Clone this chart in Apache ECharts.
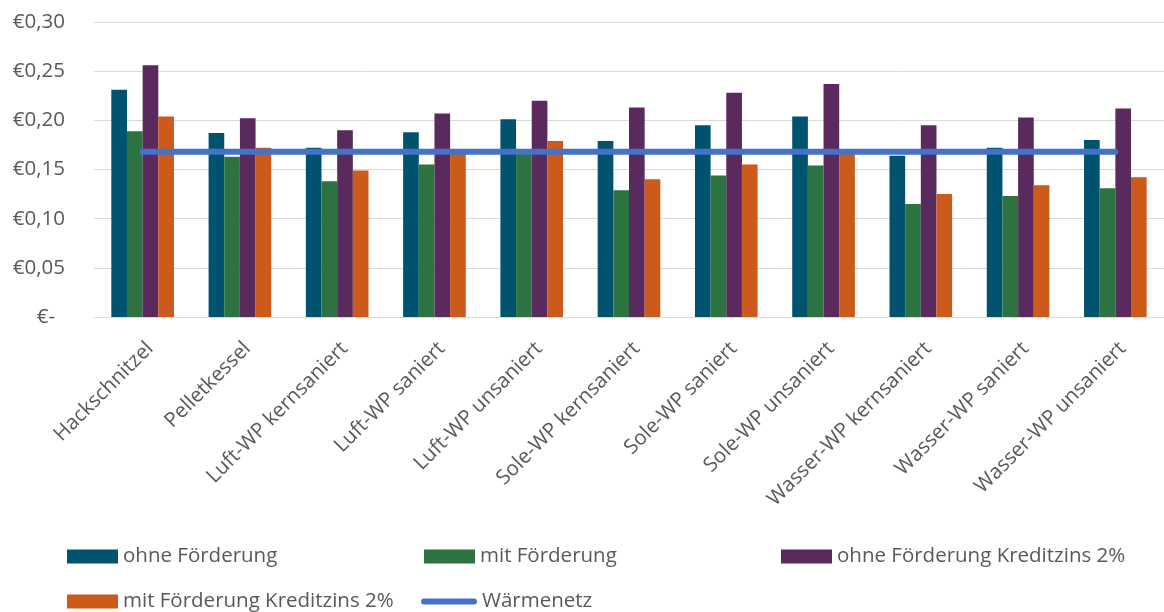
<!DOCTYPE html>
<html>
<head>
<meta charset="utf-8">
<script src="https://cdn.jsdelivr.net/npm/echarts@6/dist/echarts.min.js"></script>
<style>
html,body{margin:0;padding:0;background:#fff;}
#chart{width:1164px;height:612px;}
</style>
</head>
<body>
<div id="chart"></div>
<script>
const categories = ['Hackschnitzel','Pelletkessel','Luft-WP kernsaniert','Luft-WP saniert','Luft-WP unsaniert','Sole-WP kernsaniert','Sole-WP saniert','Sole-WP unsaniert','Wasser-WP kernsaniert','Wasser-WP saniert','Wasser-WP unsaniert'];
const ohneFoerderung = [0.231, 0.187, 0.172, 0.188, 0.201, 0.179, 0.195, 0.204, 0.164, 0.172, 0.180];
const mitFoerderung = [0.189, 0.163, 0.138, 0.155, 0.167, 0.129, 0.144, 0.154, 0.115, 0.123, 0.131];
const ohneFoerderungKredit = [0.256, 0.202, 0.190, 0.207, 0.220, 0.213, 0.228, 0.237, 0.195, 0.203, 0.212];
const mitFoerderungKredit = [0.204, 0.172, 0.149, 0.166, 0.179, 0.140, 0.155, 0.166, 0.125, 0.134, 0.142];
const waermenetz = [0.168, 0.168, 0.168, 0.168, 0.168, 0.168, 0.168, 0.168, 0.168, 0.168, 0.168];
const yTicks = [0, 0.05, 0.10, 0.15, 0.20, 0.25, 0.30];

const FONT = '"Open Sans", "Liberation Sans", sans-serif';
const TXT = '#595959';
const FS = 20.5;

const chart = echarts.init(document.getElementById('chart'), null, {renderer: 'canvas'});

function bar(name, data, color) {
  return {
    name: name, type: 'bar', data: data,
    barGap: '0%', barCategoryGap: '35.6%',
    itemStyle: {color: color},
    emphasis: {disabled: true}
  };
}
function legend(name, left, top, extra) {
  return Object.assign({
    data: [name], left: left, top: top, padding: 0,
    itemWidth: 51, itemHeight: 14, itemGap: 0, icon: 'rect',
    selectedMode: false,
    textStyle: {fontFamily: FONT, fontSize: FS, color: TXT, padding: [0,0,0,0]}
  }, extra || {});
}

chart.setOption({
  animation: false,
  backgroundColor: '#ffffff',
  grid: {left: 94, top: 22, width: 1076, height: 295, containLabel: false},
  xAxis: {
    type: 'category', data: categories,
    axisLine: {show: true, lineStyle: {color: '#d9d9d9', width: 1}},
    axisTick: {show: false},
    axisLabel: {
      interval: 0, rotate: 45, margin: 21, verticalAlign: 'top',
      fontFamily: FONT, fontSize: FS, color: TXT
    }
  },
  yAxis: {
    type: 'value', min: 0, max: 0.30, interval: 0.05,
    axisLine: {show: false}, axisTick: {show: false},
    splitLine: {lineStyle: {color: '#d9d9d9', width: 1}},
    axisLabel: {
      margin: 29, fontFamily: FONT, fontSize: FS, color: TXT,
      formatter: function (v) {
        if (Math.abs(v) < 1e-9) return '{z|€-}';
        return '€' + v.toFixed(2).replace('.', ',');
      },
      rich: {z: {fontFamily: FONT, fontSize: FS, color: TXT, padding: [0, 10, 0, 0]}}
    }
  },
  legend: [
    legend('ohne Förderung', 67, 546),
    legend('mit Förderung', 424, 546),
    legend('ohne Förderung Kreditzins 2%', 781, 546),
    legend('mit Förderung Kreditzins 2%', 67, 591),
    legend('Wärmenetz', 421, 591, {
      itemWidth: 56, itemHeight: 6,
      icon: 'path://M3,0 L53,0 A3,3 0 0 1 53,6 L3,6 A3,3 0 0 1 3,0 Z',
      itemStyle: {color: '#4472C4'}
    })
  ],
  series: [
    bar('ohne Förderung', ohneFoerderung, '#00536F'),
    bar('mit Förderung', mitFoerderung, '#2D7341'),
    bar('ohne Förderung Kreditzins 2%', ohneFoerderungKredit, '#5A2A5E'),
    bar('mit Förderung Kreditzins 2%', mitFoerderungKredit, '#CC5A1B'),
    {
      name: 'Wärmenetz', type: 'line', data: waermenetz, z: 10,
      symbol: 'none', color: '#4472C4',
      lineStyle: {color: '#4472C4', width: 6, cap: 'round'},
      emphasis: {disabled: true}
    }
  ]
});
</script>
</body>
</html>
